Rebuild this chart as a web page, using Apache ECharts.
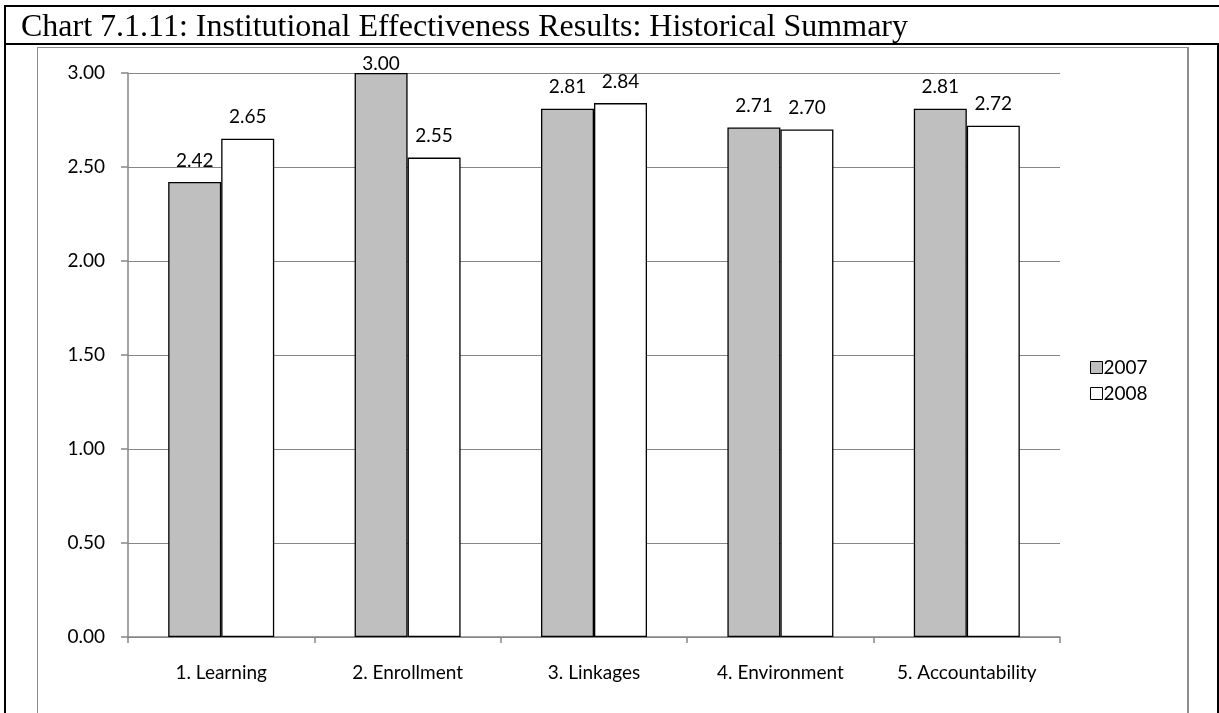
<!DOCTYPE html>
<html>
<head>
<meta charset="utf-8">
<script src="https://cdn.jsdelivr.net/npm/echarts@6/dist/echarts.min.js"></script>
<style>
  html, body { margin: 0; padding: 0; background: #fff; }
  #wrap { position: relative; width: 1219px; height: 713px; overflow: hidden; }
  #chart { position: absolute; left: 0; top: 0; width: 1219px; height: 713px; }
  .ln { position: absolute; background: #000; }
  .gl { position: absolute; background: #8c8c8c; }
</style>
</head>
<body>
<div id="wrap">
  <div id="chart"></div>
  <div class="ln" style="left:4px;top:5px;width:1215px;height:2px;"></div>
  <div class="ln" style="left:4px;top:5px;width:2px;height:708px;"></div>
  <div class="ln" style="left:4px;top:43px;width:1215px;height:2px;"></div>
  <div class="ln" style="left:1217px;top:43px;width:2px;height:670px;"></div>
  <div class="gl" style="left:37px;top:47px;width:1152px;height:1px;"></div>
  <div class="gl" style="left:37px;top:47px;width:1px;height:666px;"></div>
  <div class="gl" style="left:1187px;top:47px;width:2px;height:666px;"></div>
</div>
<script>
const titleText = 'Chart 7.1.11: Institutional Effectiveness Results: Historical Summary';
const categories = ['1. Learning', '2. Enrollment', '3. Linkages', '4. Environment', '5. Accountability'];
const seriesNames = ['2007', '2008'];
const values2007 = [2.42, 3.00, 2.81, 2.71, 2.81];
const values2008 = [2.65, 2.55, 2.84, 2.70, 2.72];
const yTicks = [0, 0.5, 1.0, 1.5, 2.0, 2.5, 3.0];

const chart = echarts.init(document.getElementById('chart'), null, { renderer: 'canvas' });

// labels sit ~16px above the bar top; the one touching the axis max is squeezed down
function mkData(vals) {
  const maxY = yTicks[yTicks.length - 1];
  return vals.map(v => ({
    value: v,
    label: { distance: v >= maxY - 0.01 ? 0 : 12 }
  }));
}

const FONT = 'Lato, "Open Sans", sans-serif';
const labelFont = { fontFamily: FONT, fontSize: 19, color: '#000' };

chart.setOption({
  animation: false,
  title: {
    text: titleText,
    left: 21, top: 12, padding: 0,
    textStyle: { fontFamily: '"Liberation Serif", "DejaVu Serif", serif', fontSize: 32, fontWeight: 'normal', color: '#000' }
  },
  legend: {
    data: seriesNames,
    orient: 'vertical',
    left: 1090, top: 358, padding: 0,
    itemWidth: 12, itemHeight: 12, itemGap: 7,
    icon: 'rect',
    textStyle: { fontFamily: FONT, fontSize: 19, color: '#000', padding: [0, 0, 0, -4] },
    itemStyle: { borderColor: '#000', borderWidth: 1 }
  },
  grid: { left: 128, right: 159, top: 73, bottom: 76, containLabel: false },
  xAxis: {
    type: 'category',
    data: categories,
    axisLine: { lineStyle: { color: '#868686', width: 1.5 } },
    axisTick: { show: true, length: 6, alignWithLabel: false, lineStyle: { color: '#868686', width: 1.5 } },
    axisLabel: { margin: 26, fontFamily: FONT, fontSize: 19, color: '#000' }
  },
  yAxis: {
    type: 'value',
    min: yTicks[0], max: yTicks[yTicks.length - 1], interval: 0.5,
    axisLine: { show: true, lineStyle: { color: '#868686', width: 1.5 } },
    axisTick: { show: true, length: 7, lineStyle: { color: '#868686', width: 1.5 } },
    splitLine: { show: true, lineStyle: { color: '#868686', width: 1.2 } },
    axisLabel: { margin: 23, fontFamily: FONT, fontSize: 19, color: '#000',
      formatter: v => v.toFixed(2) }
  },
  series: [
    {
      name: seriesNames[0], type: 'bar', data: mkData(values2007),
      barWidth: 53, barGap: '0%',
      itemStyle: { color: '#BFBFBF', borderColor: '#000', borderWidth: 1.3 },
      label: Object.assign({ show: true, position: 'top', formatter: p => p.value.toFixed(2) }, labelFont)
    },
    {
      name: seriesNames[1], type: 'bar', data: mkData(values2008),
      barWidth: 53, barGap: '0%',
      itemStyle: { color: '#FFFFFF', borderColor: '#000', borderWidth: 1.3 },
      label: Object.assign({ show: true, position: 'top', formatter: p => p.value.toFixed(2) }, labelFont)
    }
  ]
});
</script>
</body>
</html>
